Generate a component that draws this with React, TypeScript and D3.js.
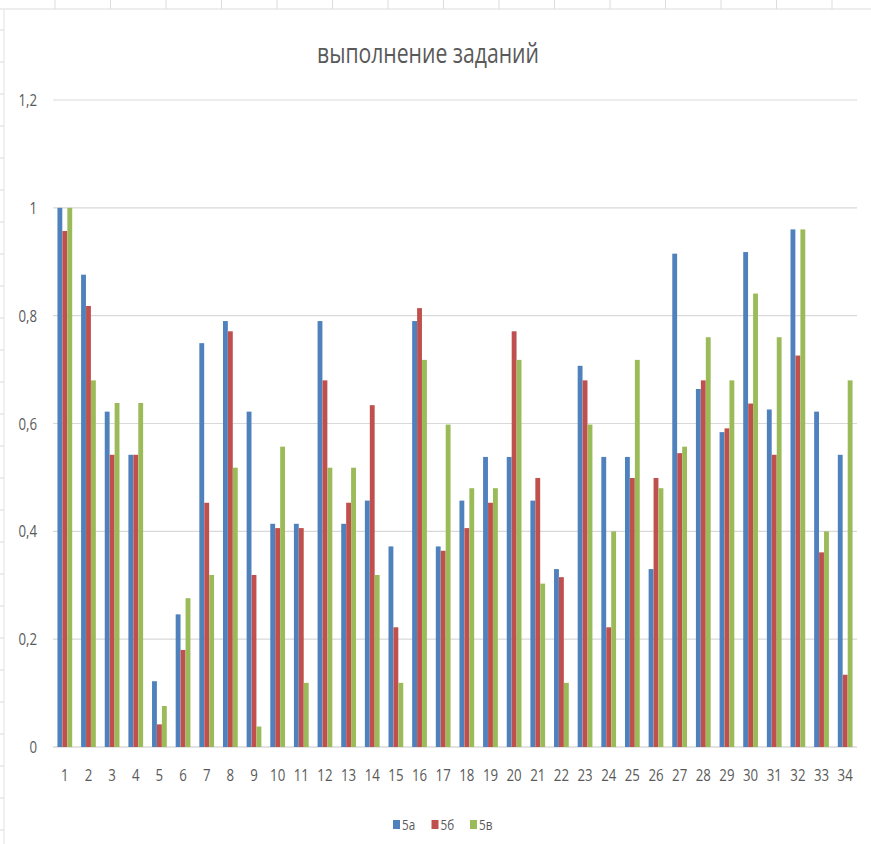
import React from "react";
import * as d3 from "d3";

const categories = d3.range(1, 35).map(String);
const seriesNames = ["5а", "5б", "5в"];
const colors = ["#4F81BD", "#C0504D", "#9BBB59"];

const s5a = [1.0, 0.876, 0.622, 0.542, 0.122, 0.246, 0.749, 0.79, 0.622, 0.414, 0.414, 0.79, 0.414, 0.457, 0.372, 0.79, 0.372, 0.457, 0.538, 0.538, 0.457, 0.33, 0.707, 0.538, 0.538, 0.33, 0.915, 0.664, 0.584, 0.918, 0.626, 0.96, 0.622, 0.542];
const s5b = [0.957, 0.818, 0.542, 0.542, 0.042, 0.18, 0.453, 0.771, 0.319, 0.406, 0.406, 0.68, 0.453, 0.634, 0.222, 0.814, 0.364, 0.406, 0.453, 0.771, 0.499, 0.315, 0.68, 0.222, 0.499, 0.499, 0.545, 0.68, 0.591, 0.637, 0.542, 0.726, 0.361, 0.134];
const s5v = [1.0, 0.68, 0.638, 0.638, 0.076, 0.276, 0.319, 0.518, 0.038, 0.557, 0.119, 0.518, 0.518, 0.319, 0.119, 0.718, 0.598, 0.48, 0.48, 0.718, 0.303, 0.119, 0.598, 0.4, 0.718, 0.48, 0.557, 0.76, 0.68, 0.841, 0.76, 0.96, 0.4, 0.68];
const yTicks = [0, 0.2, 0.4, 0.6, 0.8, 1.0, 1.2];
const title = "выполнение заданий";

const W = 871;
const H = 844;
const FONT = "'Open Sans', 'DejaVu Sans', sans-serif";
const TXT = "#595959";

export default function App() {
  const series = [s5a, s5b, s5v];
  const x = d3.scaleBand().domain(categories).range([53, 857]).paddingInner(0).paddingOuter(0);
  const inner = d3.scaleBand().domain(seriesNames).range([0, x.bandwidth()]).paddingOuter(0.9).paddingInner(0.02);
  const y = d3.scaleLinear().domain([0, 1.2]).range([747, 100]);
  const fmt = (v: number) => d3.format("~g")(v).replace(".", ",");
  const colLines = d3.range(55, W, 55.5);

  return (
    <svg width={W} height={H} style={{ position: "fixed", left: 0, top: 0, background: "#fff" }}>
      <rect x={0} y={0} width={W} height={H} fill="#ffffff" />
      {/* spreadsheet background */}
      <line x1={0} x2={W} y1={9} y2={9} stroke="#dcdcdc" />
      {colLines.map((cx, i) => (
        <line key={i} x1={cx} x2={cx} y1={0} y2={9} stroke="#dcdcdc" />
      ))}
      <line x1={4} x2={4} y1={9} y2={H} stroke="#e2e2e2" />
      {d3.range(30, H, 32).map((ry, i) => (
        <line key={i} x1={0} x2={4} y1={ry} y2={ry} stroke="#dcdcdc" />
      ))}

      <text x={428} y={63} textAnchor="middle" fontFamily={FONT} fontSize={28} fill={TXT} textLength={222} lengthAdjust="spacingAndGlyphs">
        {title}
      </text>

      {yTicks.map((t) => (
        <g key={t}>
          <line x1={53} x2={857} y1={y(t)} y2={y(t)} stroke={t === 0 ? "#c8c8c8" : "#d9d9d9"} strokeWidth={1.2} />
          <text transform={`translate(37,${y(t) + 6}) scale(0.78,1)`} textAnchor="end" fontFamily={FONT} fontSize={17} fill={TXT}>
            {fmt(t)}
          </text>
        </g>
      ))}

      {categories.map((c, i) => (
        <g key={c}>
          {series.map((s, k) => (
            <rect
              key={k}
              x={(x(c) as number) + (inner(seriesNames[k]) as number)}
              y={y(s[i])}
              width={inner.bandwidth()}
              height={y(0) - y(s[i])}
              fill={colors[k]}
            />
          ))}
          <text transform={`translate(${(x(c) as number) + x.bandwidth() / 2},781) scale(0.78,1)`} textAnchor="middle" fontFamily={FONT} fontSize={17} fill={TXT}>
            {c}
          </text>
        </g>
      ))}

      {seriesNames.map((n, k) => {
        const lx = 393 + k * 38.5;
        return (
          <g key={n}>
            <rect x={lx} y={820} width={7} height={9} fill={colors[k]} />
            <text transform={`translate(${lx + 9},830) scale(0.78,1)`} fontFamily={FONT} fontSize={15} fill={TXT}>
              {n}
            </text>
          </g>
        );
      })}
    </svg>
  );
}
